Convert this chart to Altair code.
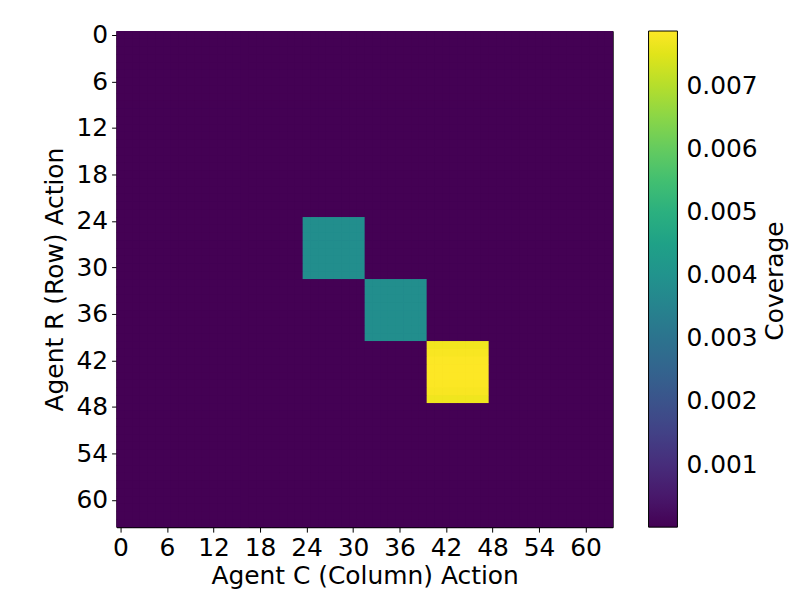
import altair as alt
import pandas as pd

N = 64
background_value = 0.00001
block_rows = [24, 32, 40]
block_cols = [24, 32, 40]
block_size = 8
block_values = [0.00385, 0.00385, 0.00785]
# slight row variation seen in the bright block
yellow_row_values = [0.00772, 0.00780, 0.00786, 0.00787, 0.00787, 0.00785, 0.00780, 0.00770]
tick_values = [0, 6, 12, 18, 24, 30, 36, 42, 48, 54, 60]
legend_values = [0.001, 0.002, 0.003, 0.004, 0.005, 0.006, 0.007]
vmin, vmax = 0.00001, 0.00787
colorbar_title = ["Coverage"]

grid = [[background_value] * N for _ in range(N)]
for bi, (r0, c0, v) in enumerate(zip(block_rows, block_cols, block_values)):
    for i in range(block_size):
        for j in range(block_size):
            grid[r0 + i][c0 + j] = yellow_row_values[i] if bi == 2 else v

# tiny overlap between neighbouring cells hides anti-aliasing seams
OV = 0.05
rows = []
for r in range(N):
    for c in range(N):
        rows.append({"row": r, "col": c,
                     "x0": c - 0.5, "x1": min(c + 0.5 + OV, 63.5),
                     "y0": r - 0.5, "y1": min(r + 0.5 + OV, 63.5),
                     "Coverage": grid[r][c]})
df = pd.DataFrame(rows)

FONT = "DejaVu Sans"
FS = 25
cscale = alt.Scale(scheme="viridis", domain=[vmin, vmax], nice=False, zero=False)

heat = alt.Chart(df).mark_rect().encode(
    x=alt.X("x0:Q", scale=alt.Scale(domain=[-0.5, 63.5], nice=False, zero=False),
            axis=alt.Axis(values=tick_values, title="Agent C (Column) Action", grid=False,
                          tickColor="black", domainColor="black", labelColor="black",
                          titleColor="black", tickSize=5, labelPadding=3, labelOverlap=False,
                          labelFontSize=FS, titleFontSize=FS, titleFontWeight="normal",
                          labelFont=FONT, titleFont=FONT, titlePadding=4)),
    x2="x1:Q",
    y=alt.Y("y0:Q", scale=alt.Scale(domain=[-0.5, 63.5], nice=False, zero=False, reverse=True),
            axis=alt.Axis(values=tick_values, title="Agent R (Row) Action", grid=False,
                          tickColor="black", domainColor="black", labelColor="black",
                          titleColor="black", tickSize=5, labelPadding=4, labelOverlap=False,
                          labelFontSize=FS, titleFontSize=FS, titleFontWeight="normal",
                          labelFont=FONT, titleFont=FONT, titlePadding=8)),
    y2="y1:Q",
    color=alt.Color("Coverage:Q", scale=cscale,
                    legend=alt.Legend(type="gradient", values=legend_values, format=".3f",
                                      title=None, direction="vertical",
                                      gradientLength=498, gradientThickness=29,
                                      gradientStrokeColor="black", gradientStrokeWidth=1,
                                      labelFontSize=FS, labelFont=FONT,
                                      labelColor="black",
                                      offset=36, padding=0, labelOffset=9)),
)

title_text = alt.Chart(pd.DataFrame({"t": colorbar_title})).mark_text(
    angle=270, font=FONT, fontSize=FS, color="black", align="center", baseline="middle"
).encode(
    text="t:N",
    x=alt.value(661),
    y=alt.value(251),
)

chart = alt.layer(heat, heat, title_text).properties(
    width=498, height=498,
    autosize="none",
    padding={"left": 109, "top": 22, "right": 180, "bottom": 64},
).configure_view(stroke="black", strokeWidth=1, fill="#440154")

chart.save("out.html", embed_options={"renderer": "svg", "actions": False})
